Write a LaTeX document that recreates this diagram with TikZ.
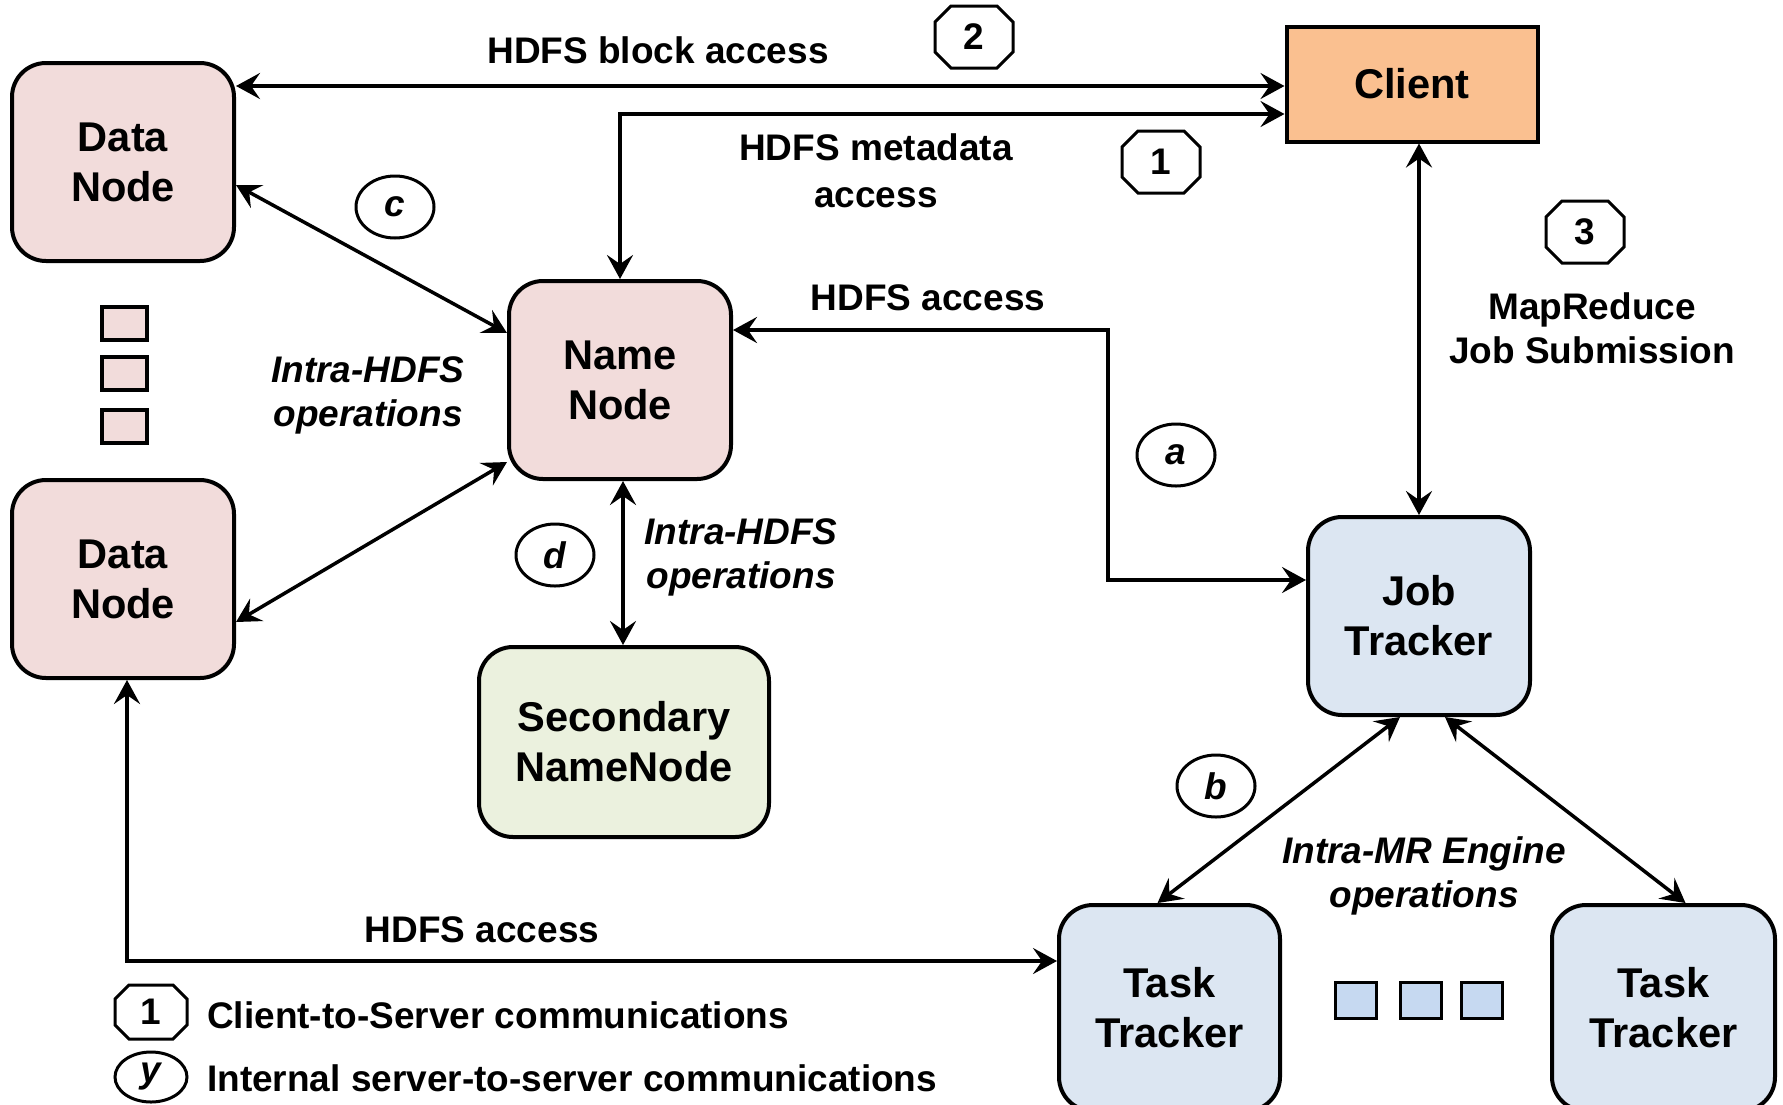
\documentclass[tikz,border=0pt]{standalone}
\usepackage{fontspec}
\setmainfont{Liberation Sans}
\usetikzlibrary{arrows.meta,shapes.geometric,calc}
\definecolor{pinkfill}{HTML}{F2DCDB}
\definecolor{orangefill}{HTML}{FAC090}
\definecolor{bluefill}{HTML}{DCE6F2}
\definecolor{greenfill}{HTML}{EBF1DE}
\definecolor{sqblue}{HTML}{C6D9F1}
% octagon frame around a named node: #1 node, #2 half width, #3 half height, #4 chamfer
\newcommand\octframe[4]{%
  \draw[line width=3pt, line join=miter]
    ($(#1)+(-#2+#4,-#3)$) -- ($(#1)+(#2-#4,-#3)$) -- ($(#1)+(#2,-#3+#4)$) --
    ($(#1)+(#2,#3-#4)$) -- ($(#1)+(#2-#4,#3)$) -- ($(#1)+(-#2+#4,#3)$) --
    ($(#1)+(-#2,#3-#4)$) -- ($(#1)+(-#2,-#3+#4)$) -- cycle;}
\begin{document}
\begin{tikzpicture}[x=1pt,y=-1pt,
  box/.style={draw, line width=4pt, rounded corners=34pt, minimum width=222pt, minimum height=198pt,
    align=center, inner sep=0pt, font=\bfseries\fontsize{41.6}{50}\selectfont,
    execute at begin node={\rule{0pt}{38pt}}},
  lbl/.style={align=center, inner sep=0pt, font=\bfseries\fontsize{37}{44}\selectfont},
  ilbl/.style={align=center, inner sep=0pt, font=\bfseries\itshape\fontsize{37}{44}\selectfont},
  octxt/.style={inner sep=0pt, minimum width=78pt, minimum height=62pt,
    font=\bfseries\fontsize{37}{44}\selectfont},
  ell/.style={draw, ellipse, line width=3pt, minimum width=78pt, minimum height=62pt, inner sep=0pt,
    font=\bfseries\itshape\fontsize{37}{44}\selectfont},
  sq/.style={draw, line width=3.5pt, inner sep=0pt},
  arr/.style={line width=3.5pt, {Stealth[length=24pt,width=26pt,inset=9pt]}-{Stealth[length=24pt,width=26pt,inset=9pt]}}]
\clip (0,0) rectangle (1783,1104);
\useasboundingbox (0,0) rectangle (1783,1104);

% main nodes
\node[box, fill=pinkfill] (dn1) at (123,162) {Data\\Node};
\node[box, fill=pinkfill] (dn2) at (123,579) {Data\\Node};
\node[box, fill=pinkfill] (nn) at (620,380) {Name\\Node};
\node[box, fill=greenfill, minimum width=290pt, minimum height=190pt,
  execute at begin node={\rule{0pt}{44pt}}] (snn) at (624,742) {Secondary\\NameNode};
\node[box, fill=bluefill] (jt) at (1419,616) {Job\\Tracker};
\node[box, fill=bluefill, minimum width=221pt, minimum height=206pt] (tt1) at (1169.5,1008) {Task\\Tracker};
\node[box, fill=bluefill, minimum width=223pt, minimum height=206pt] (tt2) at (1663.5,1008) {Task\\Tracker};
\node[draw, line width=4pt, fill=orangefill, minimum width=251pt, minimum height=115pt, inner sep=0pt,
  font=\bfseries\fontsize{41.6}{50}\selectfont] (client) at (1412,84) {Client};

% small squares
\node[sq, fill=pinkfill, minimum width=45pt, minimum height=33pt] (p1) at (124.5,323.5) {};
\node[sq, fill=pinkfill, minimum width=45pt, minimum height=33pt] (p2) at (124.5,373.5) {};
\node[sq, fill=pinkfill, minimum width=45pt, minimum height=33pt] (p3) at (124.5,426.5) {};
\node[sq, fill=sqblue, line width=3pt, minimum width=41pt, minimum height=36pt] (b1) at (1355.5,1000) {};
\node[sq, fill=sqblue, line width=3pt, minimum width=41pt, minimum height=36pt] (b2) at (1420.5,1000) {};
\node[sq, fill=sqblue, line width=3pt, minimum width=41pt, minimum height=36pt] (b3) at (1481.5,1000) {};

% connectors
\draw[arr] ($(dn1.east)+(0,-76)$) -- ($(client.west)+(0,2)$);
\draw[arr] (nn.north) |- ($(client.west)+(0,30)$);
\draw[arr] (jt.north) -- (jt.north |- client.south);
\draw[arr] ($(nn.east)+(0,-50)$) -- ++(375,0) |- ($(jt.west)+(0,-36)$);
\draw[arr] ($(dn1.east)+(0,23)$) -- ($(nn.west)+(0,-47)$);
\draw[arr] ($(dn2.east)+(0,43)$) -- ($(nn.west)+(0,82)$);
\draw[arr] ($(nn.south)+(3,0)$) -- ($(snn.north)+(-1,0)$);
\draw[arr] ($(jt.south)+(-19,0)$) -- ($(tt1.north)+(-12,0)$);
\draw[arr] ($(jt.south)+(26,0)$) -- ($(tt2.north)+(22,0)$);
\draw[arr] ($(dn2.south)+(4,0)$) |- ($(tt1.west)+(0,-47)$);

% labels
\node[lbl] (l1) at (658,50) {HDFS block access};
\node[lbl, font=\bfseries\fontsize{37}{47}\selectfont] (l2) at (876,171) {HDFS metadata\\access};
\node[lbl] (l3) at (928,298) {HDFS access};
\node[lbl] (l4) at (1592,328) {MapReduce\\Job Submission};
\node[ilbl] (l5) at (368,395) {Intra-HDFS\\operations};
\node[ilbl] (l6) at (741,557) {Intra-HDFS\\operations};
\node[ilbl] (l7) at (1424,876) {Intra-MR Engine\\operations};
\node[lbl] (l8) at (482,930) {HDFS access};

% markers
\node[octxt] (o2) at (974,37) {2};
\octframe{o2}{39}{31}{16}
\node[octxt] (o1) at (1161,162) {1};
\octframe{o1}{39}{31}{16}
\node[octxt] (o3) at (1585,232) {3};
\octframe{o3}{39}{31}{16}
\node[ell] (ec) at (395,207) {c};
\node[ell] (ea) at (1176,455) {a};
\node[ell] (ed) at (555,555) {d};
\node[ell] (eb) at (1216,786) {b};

% legend
\node[octxt, minimum width=72pt, minimum height=54pt] (lo) at (151,1012) {1};
\octframe{lo}{36}{27}{14}
\node[ell, minimum width=72pt, minimum height=50pt] (le) at (151,1077) {y};
\node[lbl, anchor=west] (lt1) at (207,1015) {Client-to-Server communications};
\node[lbl, anchor=west] (lt2) at (207,1078) {Internal server-to-server communications};
\end{tikzpicture}
\end{document}
